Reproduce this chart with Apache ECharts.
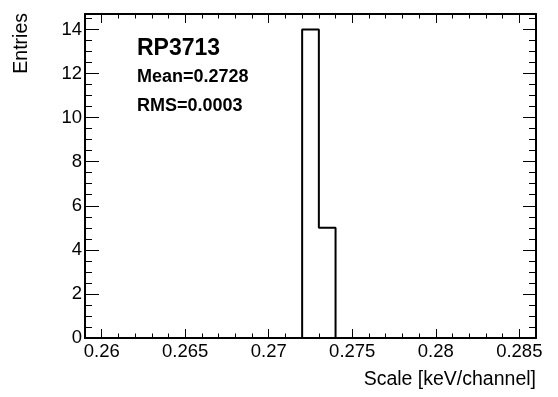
<!DOCTYPE html>
<html>
<head>
<meta charset="utf-8">
<script src="https://cdn.jsdelivr.net/npm/echarts@6/dist/echarts.min.js"></script>
<style>
html,body{margin:0;padding:0;background:#fff;}
#chart{width:558px;height:397px;}
</style>
</head>
<body>
<div id="chart"></div>
<script>
// ---- data ----
const binEdges = [0.272, 0.273, 0.274];
const binCounts = [14, 5];
const xRange = [0.259, 0.286];
const yRange = [0, 14.7];
const xMajorTicks = [0.26, 0.265, 0.27, 0.275, 0.28, 0.285];
const xMinorTicks = [0.259, 0.261, 0.262, 0.263, 0.264, 0.266, 0.267, 0.268, 0.269,
  0.271, 0.272, 0.273, 0.274, 0.276, 0.277, 0.278, 0.279, 0.281, 0.282, 0.283, 0.284, 0.286];
const yMajorTicks = [0, 2, 4, 6, 8, 10, 12, 14];
const yMinorTicks = [0.5, 1, 1.5, 2.5, 3, 3.5, 4.5, 5, 5.5, 6.5, 7, 7.5, 8.5, 9, 9.5,
  10.5, 11, 11.5, 12.5, 13, 13.5, 14.5];
const titleText = 'RP3713';
const statLines = ['Mean=0.2728', 'RMS=0.0003'];
const xTitle = 'Scale [keV/channel]';
const yTitle = 'Entries';

// ---- build histogram outline points ----
const pts = [[binEdges[0], 0]];
for (let i = 0; i < binCounts.length; i++) pts.push([binEdges[i], binCounts[i]]);
pts.push([binEdges[binEdges.length - 1], 0]);

const FONT = 'Liberation Sans, Arial, Helvetica, sans-serif';
const lineStyle = {color: '#000', width: 2};
const tickStyle = {color: '#000', width: 1};

function xAx(pos, ticks, len, withLine, withLabels) {
  return {
    type: 'value', position: pos, min: xRange[0], max: xRange[1],
    axisLine: {show: withLine, onZero: false, lineStyle: lineStyle},
    axisTick: {show: true, inside: true, length: len, customValues: ticks, lineStyle: tickStyle},
    axisLabel: withLabels ? {show: true, customValues: ticks, margin: 4, color: '#000',
      fontSize: 18.5, fontFamily: FONT, formatter: v => String(+v.toFixed(4))} : {show: false},
    splitLine: {show: false}
  };
}
function yAx(pos, ticks, len, withLine, withLabels) {
  return {
    type: 'value', position: pos, min: yRange[0], max: yRange[1],
    axisLine: {show: withLine, onZero: false, lineStyle: lineStyle},
    axisTick: {show: true, inside: true, length: len, customValues: ticks, lineStyle: tickStyle},
    axisLabel: withLabels ? {show: true, customValues: ticks, margin: 3, color: '#000',
      fontSize: 18.5, fontFamily: FONT} : {show: false},
    splitLine: {show: false}
  };
}

const chart = echarts.init(document.getElementById('chart'), null, {renderer: 'canvas'});
chart.setOption({
  animation: false,
  backgroundColor: '#fff',
  grid: {left: 85, top: 14, width: 451, height: 324, containLabel: false},
  xAxis: [
    xAx('bottom', xMajorTicks, 9, true, true),
    xAx('bottom', xMinorTicks, 4.5, false, false),
    xAx('top', xMajorTicks, 9, true, false),
    xAx('top', xMinorTicks, 4.5, false, false)
  ],
  yAxis: [
    yAx('left', yMajorTicks, 14, true, true),
    yAx('left', yMinorTicks, 7, false, false),
    yAx('right', yMajorTicks, 13, true, false),
    yAx('right', yMinorTicks, 7, false, false)
  ],
  series: [{
    type: 'line', xAxisIndex: 0, yAxisIndex: 0, step: 'end', data: pts,
    symbol: 'none', lineStyle: {color: '#000', width: 2}, silent: true
  }],
  graphic: [
    {type: 'text', left: 137, top: 37, style: {text: titleText, font: 'bold 23px ' + FONT, fill: '#000'}},
    {type: 'text', left: 137, top: 68, style: {text: statLines[0], font: 'bold 18px ' + FONT, fill: '#000'}},
    {type: 'text', left: 137, top: 97, style: {text: statLines[1], font: 'bold 18px ' + FONT, fill: '#000'}},
    {type: 'text', right: 22, top: 370, style: {text: xTitle, font: '19.5px ' + FONT, fill: '#000'}},
    {type: 'text', x: 12, y: 13, rotation: Math.PI / 2,
      style: {text: yTitle, font: '19.5px ' + FONT, fill: '#000', align: 'right', verticalAlign: 'top'}}
  ]
});
</script>
</body>
</html>
